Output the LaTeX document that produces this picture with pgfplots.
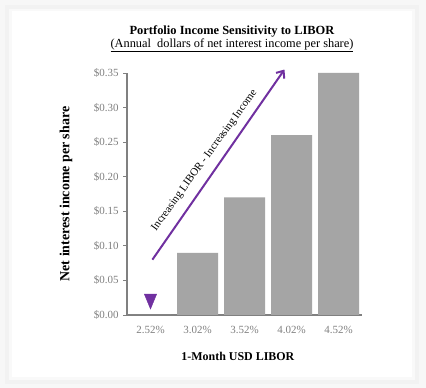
\documentclass[border=0pt]{standalone}
\usepackage{pgfplots}
\pgfplotsset{compat=1.18}
\usetikzlibrary{arrows.meta}
\usepackage{fontspec}
\setmainfont{Liberation Serif}
\definecolor{bargray}{HTML}{A5A5A5}
\definecolor{arrowpurple}{HTML}{7030A0}
\definecolor{tickgray}{HTML}{808080}
\begin{document}
\begin{tikzpicture}[x=1bp,y=1bp]
% frame
\fill[gray!6] (0,0) rectangle (426,388);
\fill[gray!10] (5,4) rectangle (419,383);
\fill[gray!5] (9,8) rectangle (415,379);
\fill[white] (12,11) rectangle (412,377);
\node[font=\fontsize{12.5}{14}\selectfont\bfseries] at (232,356.5) {Portfolio Income Sensitivity to LIBOR};
\node[font=\fontsize{12.4}{14}\selectfont] at (232,342.5) {\underline{(Annual\ \ dollars of net interest income per share)}};
\begin{axis}[
  at={(127bp,73bp)}, anchor=south west,
  scale only axis, width=235bp, height=242bp,
  xmin=-0.5, xmax=4.5, ymin=0, ymax=0.35,
  clip=false,
  axis lines*=left,
  axis line style={tickgray, line width=1.2pt, -},
  xtick={0,1,2,3,4},
  xticklabels={2.52\%,3.02\%,3.52\%,4.02\%,4.52\%},
  x tick style={draw=none},
  ytick={0,0.05,0.10,0.15,0.20,0.25,0.30,0.35},
  y tick style={tickgray, line width=0.8pt},
  tick align=outside, major tick length=4bp,
  yticklabel={\$\pgfmathprintnumber[fixed,fixed zerofill,precision=2]{\tick}},
  /pgf/number format/assume math mode=true,
  ticklabel style={font=\fontsize{11}{13}\selectfont, text=tickgray},
  yticklabel style={xshift=-1bp},
  xticklabel style={yshift=-4bp},
  xlabel={1-Month USD LIBOR},
  ylabel={Net interest income per share},
  xlabel style={font=\fontsize{12}{14}\selectfont\bfseries, at={(axis description cs:0.472,-0.17)}, anchor=center},
  ylabel style={font=\fontsize{14}{16}\selectfont\bfseries, at={(axis description cs:-0.26,0.5)}, anchor=center},
]
\addplot[ybar, bar width=41bp, fill=bargray, draw=none, bar shift=0pt]
  coordinates {(0,0) (1,0.09) (2,0.17) (3,0.26) (4,0.35)};
\addplot[only marks, mark=triangle*, mark size=7.5pt, mark options={rotate=180, xscale=0.95, yscale=1.33, fill=arrowpurple, draw=arrowpurple}]
  coordinates {(0,0.023)};
\addplot[arrowpurple, line width=2pt, -{Straight Barb[length=6bp,width=10bp]}]
  coordinates {(0.04,0.08) (2.85,0.355)};
\node[rotate=54, font=\fontsize{11}{13}\selectfont, anchor=center] at (axis cs:1.15,0.2235) {Increasing LIBOR - Increasing Income};
\end{axis}
\end{tikzpicture}
\end{document}
